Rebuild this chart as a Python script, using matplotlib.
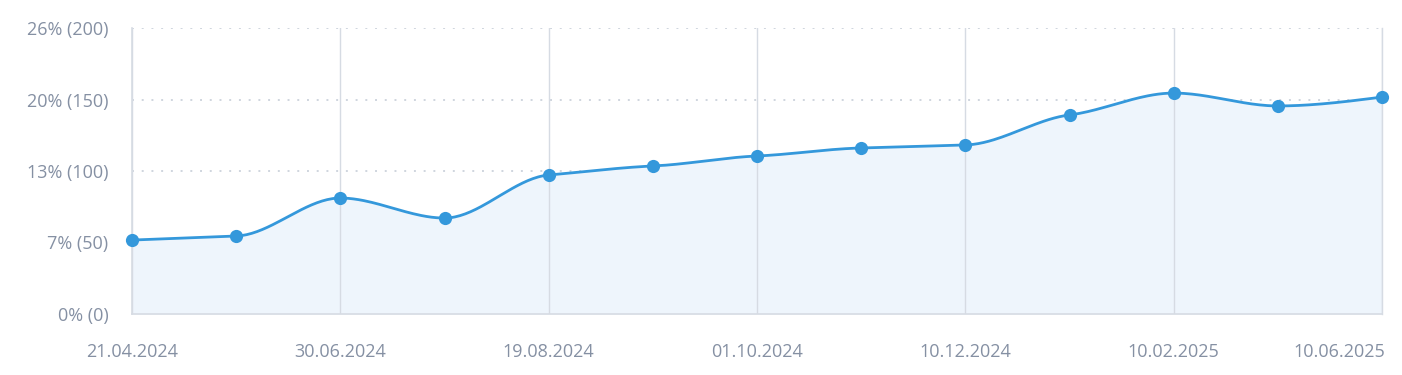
import numpy as np
import matplotlib
matplotlib.use("Agg")
import matplotlib.pyplot as plt
from matplotlib.transforms import ScaledTranslation

# ---- data ----
values = [51.7, 54.5, 81.1, 67.1, 97.2, 103.5, 110.5, 116.1, 118.2, 139.2, 154.5, 145.5, 151.7]
label_positions = [0, 2, 4, 6, 8, 10, 12]
x_labels = ["21.04.2024", "30.06.2024", "19.08.2024", "01.10.2024",
            "10.12.2024", "10.02.2025", "10.06.2025"]
y_ticks = [0, 50, 100, 150, 200]
y_labels = ["0% (0)", "7% (50)", "13% (100)", "20% (150)", "26% (200)"]

LINE = "#3498db"
FILL = "#eef5fc"
TEXT = "#8590a3"
GRID = "#d6dbe3"
DOT = "#cfd5de"


def monotone_x(x, y, n=40):
    x = np.asarray(x, float); y = np.asarray(y, float)
    h = np.diff(x); s = np.diff(y) / h
    m = np.zeros_like(y)
    for i in range(1, len(y) - 1):
        if s[i - 1] * s[i] <= 0:
            m[i] = 0
        else:
            p = (s[i - 1] * h[i] + s[i] * h[i - 1]) / (h[i - 1] + h[i])
            m[i] = np.sign(s[i - 1]) * min(abs(s[i - 1]), abs(s[i]), 0.5 * abs(p))
    m[0] = (3 * s[0] - m[1]) / 2
    m[-1] = (3 * s[-1] - m[-2]) / 2
    xs, ys = [], []
    for i in range(len(x) - 1):
        t = np.linspace(0, 1, n, endpoint=False)
        h00 = 2 * t**3 - 3 * t**2 + 1
        h10 = t**3 - 2 * t**2 + t
        h01 = -2 * t**3 + 3 * t**2
        h11 = t**3 - t**2
        xs.append(x[i] + t * h[i])
        ys.append(h00 * y[i] + h10 * h[i] * m[i] + h01 * y[i + 1] + h11 * h[i] * m[i + 1])
    xs.append([x[-1]]); ys.append([y[-1]])
    return np.concatenate(xs), np.concatenate(ys)


plt.rcParams['font.family'] = ['Open Sans', 'DejaVu Sans']
fig = plt.figure(figsize=(14.02, 3.75), dpi=100)
L, R, B, T = 132, 1382, 314, 28
ax = fig.add_axes([L / 1402, (375 - B) / 375, (R - L) / 1402, (B - T) / 375])

x = np.arange(len(values))
xs, ys = monotone_x(x, values)
ax.fill_between(xs, 0, ys, color=FILL, zorder=1, linewidth=0)
ax.plot(xs, ys, color=LINE, lw=2.0, zorder=3, solid_capstyle='round', clip_on=False)
ax.plot(x, values, 'o', color=LINE, ms=9.5, zorder=4, markeredgewidth=0, clip_on=False)

ax.set_xlim(0, len(values) - 1)
ax.set_ylim(0, 200)

for yv in y_ticks[1:]:
    ax.axhline(yv, color=DOT, lw=1.4, ls=(0, (1, 4)), zorder=0)
for p in label_positions:
    ax.axvline(p, color=GRID, lw=1.0, zorder=2)

ax.spines['top'].set_visible(False)
for s in ['left', 'bottom', 'right']:
    ax.spines[s].set_color(GRID)
    ax.spines[s].set_linewidth(1.2)
ax.spines['right'].set_linewidth(1.0)

ax.set_yticks(y_ticks)
ax.set_yticklabels(y_labels)
ax.set_xticks(label_positions)
ax.set_xticklabels(x_labels)
ax.tick_params(axis='both', length=0, colors=TEXT, labelsize=13)
ax.tick_params(axis='y', pad=17)
ax.tick_params(axis='x', pad=21)
lbls = ax.get_xticklabels()
lbls[-1].set_horizontalalignment('right')
lbls[-1].set_transform(lbls[-1].get_transform() + ScaledTranslation(3 / 100, 0, fig.dpi_scale_trans))

fig.savefig("out.png", dpi=100, facecolor="white")
